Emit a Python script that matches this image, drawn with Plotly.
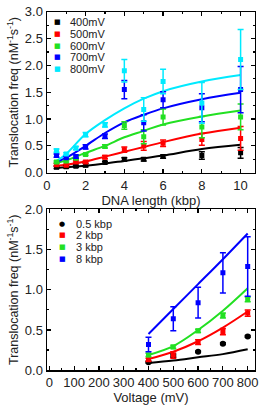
import plotly.graph_objects as go

W, H = 263, 410

# ---------------- Top panel data ----------------
length_kbp = [0.5, 1, 1.5, 2, 3, 4, 5, 6, 8, 10]
top_series = ["400mV", "500mV", "600mV", "700mV", "800mV"]
top_colors = ["#000000", "#ff0000", "#22e022", "#0000ff", "#00eaff"]

f400 = [0.10, 0.11, 0.12, 0.14, 0.19, 0.25, 0.25, 0.30, 0.32, 0.37]
e400 = [0.02, 0.02, 0.02, 0.03, 0.02, 0.03, 0.03, 0.03, 0.07, 0.10]
f500 = [0.15, 0.14, 0.20, 0.20, 0.29, 0.43, 0.50, 0.55, 0.62, 0.64]
e500 = [0.02, 0.02, 0.02, 0.02, 0.03, 0.05, 0.08, 0.06, 0.11, 0.22]
f600 = [0.20, 0.22, 0.27, 0.34, 0.49, 0.88, 0.67, 1.04, 0.85, 1.04]
e600 = [0.02, 0.02, 0.02, 0.02, 0.03, 0.07, 0.13, 0.15, 0.20, 0.24]
f700 = [0.32, 0.28, 0.30, 0.48, 0.68, 1.55, 0.93, 1.36, 1.21, 1.55]
e700 = [0.03, 0.02, 0.03, 0.04, 0.04, 0.17, 0.15, 0.15, 0.26, 0.43]
f800 = [0.41, 0.35, 0.46, 0.71, 0.89, 1.90, 1.18, 1.70, 1.30, 2.11]
e800 = [0.03, 0.02, 0.03, 0.04, 0.04, 0.21, 0.22, 0.23, 0.38, 0.56]

fit_len = [0.5, 1, 2, 3, 4, 5, 6, 8, 10]
fit400 = [0.09, 0.10, 0.13, 0.17, 0.22, 0.27, 0.32, 0.44, 0.52]
fit500 = [0.13, 0.15, 0.21, 0.30, 0.39, 0.48, 0.57, 0.73, 0.84]
fit600 = [0.18, 0.23, 0.37, 0.50, 0.66, 0.78, 0.90, 1.05, 1.16]
fit700 = [0.20, 0.28, 0.50, 0.74, 0.94, 1.08, 1.20, 1.37, 1.49]
fit800 = [0.22, 0.35, 0.72, 0.98, 1.20, 1.38, 1.52, 1.70, 1.82]

# ---------------- Bottom panel data ----------------
voltage_mV = [400, 500, 600, 700, 800]
bot_series = ["0.5 kbp", "2 kbp", "3 kbp", "8 kbp"]
bot_colors = ["#000000", "#ff0000", "#22e022", "#0000ff"]
bot_symbols = ["circle", "square", "square", "square"]

g05 = [0.10, 0.18, 0.23, 0.33, 0.42]
ge05 = [0.01, 0.02, 0.01, 0.01, 0.01]
g2 = [0.13, 0.19, 0.35, 0.48, 0.71]
ge2 = [0.02, 0.04, 0.03, 0.04, 0.04]
g3 = [0.19, 0.29, 0.49, 0.68, 0.88]
ge3 = [0.02, 0.02, 0.02, 0.03, 0.03]
g8 = [0.32, 0.64, 0.84, 1.21, 1.29]
ge8 = [0.09, 0.15, 0.19, 0.25, 0.37]

gfit05 = [0.09, 0.12, 0.16, 0.20, 0.26]
gfit2 = [0.14, 0.23, 0.36, 0.53, 0.73]
gfit3 = [0.19, 0.30, 0.50, 0.74, 1.02]
gfit8 = [0.45, 0.76, 1.07, 1.38, 1.70]

x_top_ticks = [0, 2, 4, 6, 8, 10]
y_top_ticks = [0.0, 0.5, 1.0, 1.5, 2.0, 2.5, 3.0]
x_bot_ticks = [0, 100, 200, 300, 400, 500, 600, 700, 800]
y_bot_ticks = [0.0, 0.5, 1.0, 1.5, 2.0]

FONT = "Liberation Sans, Arial, sans-serif"

fig = go.Figure()

top_vals = [f400, f500, f600, f700, f800]
top_errs = [e400, e500, e600, e700, e800]
top_fits = [fit400, fit500, fit600, fit700, fit800]
for name, c, v, e, ft in zip(top_series, top_colors, top_vals, top_errs, top_fits):
    fig.add_trace(go.Scatter(x=fit_len, y=ft, mode="lines", line=dict(color=c, width=2, shape="spline"),
                             showlegend=False, xaxis="x", yaxis="y", hoverinfo="skip"))
for name, c, v, e in zip(top_series, top_colors, top_vals, top_errs):
    fig.add_trace(go.Scatter(x=length_kbp, y=v, mode="markers", name=name,
                             marker=dict(symbol="square", size=5, color=c),
                             error_y=dict(type="data", array=e, color=c, thickness=1.5, width=3),
                             showlegend=False, xaxis="x", yaxis="y"))

bot_vals = [g05, g2, g3, g8]
bot_errs = [ge05, ge2, ge3, ge8]
bot_fits = [gfit05, gfit2, gfit3, gfit8]
for name, c, v, e, ft in zip(bot_series, bot_colors, bot_vals, bot_errs, bot_fits):
    fig.add_trace(go.Scatter(x=voltage_mV, y=ft, mode="lines", line=dict(color=c, width=2, shape="spline"),
                             showlegend=False, xaxis="x2", yaxis="y2", hoverinfo="skip"))
for name, c, sym, v, e in zip(bot_series, bot_colors, bot_symbols, bot_vals, bot_errs):
    fig.add_trace(go.Scatter(x=voltage_mV, y=v, mode="markers", name=name,
                             marker=dict(symbol=sym, size=6 if sym == "circle" else 5, color=c),
                             error_y=dict(type="data", array=e, color=c, thickness=1.5, width=3),
                             showlegend=False, xaxis="x2", yaxis="y2"))

xl, xr = 44 / W, 258 / W
top_dom = [1 - 172 / H, 1 - 5 / H]
bot_dom = [1 - 377 / H, 1 - 210 / H]

def axis_common():
    return dict(showline=True, linecolor="black", linewidth=1.3, mirror="ticks",
                ticks="inside", ticklen=4, tickwidth=1.2, tickcolor="black",
                showgrid=False, zeroline=False,
                tickfont=dict(family=FONT, size=13, color="#222"))

ytitle = "Translocation freq (nM<sup>-1</sup>s<sup>-1</sup>)"

fig.update_layout(
    width=W, height=H, margin=dict(l=0, r=0, t=0, b=0),
    paper_bgcolor="white", plot_bgcolor="white", showlegend=False,
    font=dict(family=FONT, size=12, color="#222"),
    xaxis=dict(domain=[xl, xr], anchor="y", range=[0, 10.75], tickvals=x_top_ticks,
               minor=dict(ticks="inside", ticklen=2, dtick=1, tickcolor="black"),
               title=dict(text="DNA length (kbp)", font=dict(family=FONT, size=13), standoff=1),
               **axis_common()),
    yaxis=dict(domain=top_dom, anchor="x", range=[0, 3.0], tickvals=y_top_ticks,
               tickformat=".1f",
               minor=dict(ticks="inside", ticklen=2, dtick=0.25, tickcolor="black"),
               title=dict(text=ytitle, font=dict(family=FONT, size=12.5), standoff=3),
               **axis_common()),
    xaxis2=dict(domain=[xl, xr], anchor="y2", range=[-10, 830], tickvals=x_bot_ticks,
                minor=dict(ticks="inside", ticklen=2, dtick=50, tickcolor="black"),
                title=dict(text="Voltage (mV)", font=dict(family=FONT, size=13), standoff=1),
                **axis_common()),
    yaxis2=dict(domain=bot_dom, anchor="x2", range=[0, 2.0], tickvals=y_bot_ticks,
                tickformat=".1f",
                minor=dict(ticks="inside", ticklen=2, dtick=0.25, tickcolor="black"),
                title=dict(text=ytitle, font=dict(family=FONT, size=12.5), standoff=3),
                **axis_common()),
)

# Compact legends drawn as text annotations
def add_legend(names, colors, glyphs, x_marker, x_text, y_first, dy):
    for i, (n, c, g) in enumerate(zip(names, colors, glyphs)):
        y = 1 - (y_first + i * dy) / H
        fig.add_annotation(x=x_marker / W, y=y, xref="paper", yref="paper", text=g, showarrow=False,
                           xanchor="center", yanchor="middle", font=dict(family="DejaVu Sans", size=7, color=c))
        fig.add_annotation(x=x_text / W, y=y, xref="paper", yref="paper", text=n, showarrow=False,
                           xanchor="left", yanchor="middle", font=dict(family=FONT, size=11, color="#222"))

add_legend(top_series, top_colors, ["■"] * 5, 55, 66, 15.7, 12.2)
add_legend(bot_series, bot_colors, ["●", "■", "■", "■"], 60, 72, 225, 12.1)

fig.write_html("out.html", config={"displayModeBar": False, "staticPlot": True},
               post_script="document.body.style.margin='0';document.body.style.padding='0';")
